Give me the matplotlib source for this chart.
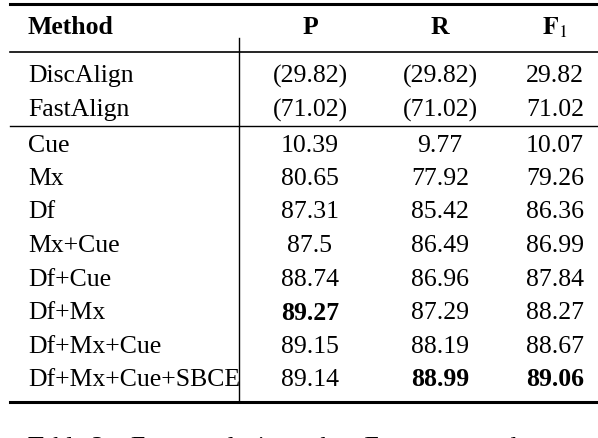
import matplotlib
matplotlib.use("Agg")
import matplotlib.pyplot as plt
plt.rcParams["mathtext.fontset"] = "stix"

methods = ["DiscAlign", "FastAlign", "Cue", "Mx", "Df", "Mx+Cue", "Df+Cue", "Df+Mx", "Df+Mx+Cue", "Df+Mx+Cue+SBCE"]
P = ["(29.82)", "(71.02)", "10.39", "80.65", "87.31", "87.5", "88.74", "89.27", "89.15", "89.14"]
R = ["(29.82)", "(71.02)", "9.77", "77.92", "85.42", "86.49", "86.96", "87.29", "88.19", "88.99"]
F1 = ["29.82", "71.02", "10.07", "79.26", "86.36", "86.99", "87.84", "88.27", "88.67", "89.06"]
bold = {(7, 0), (9, 1), (9, 2)}

W, H = 598, 438
fig = plt.figure(figsize=(W/100, H/100), dpi=100)
ax = fig.add_axes([0, 0, 1, 1])
ax.set_xlim(0, W); ax.set_ylim(H, 0); ax.axis("off")
font = "Liberation Serif"
fs = 18.5

ax.plot([10, 598], [4, 4], color="black", lw=2.2)
ax.plot([10, 598], [52, 52], color="black", lw=1.2)
ax.plot([10, 598], [126, 126], color="black", lw=1.0)
ax.plot([10, 598], [402, 402], color="black", lw=2.2)
ax.plot([239, 239], [38, 402], color="black", lw=1.0)

cols = [310, 440, 555]
ax.text(28, 28, "Method", fontfamily=font, fontsize=fs, fontweight="bold", va="center")
for x, h in zip(cols, ["P", "R", r"$\mathbf{F}_1$"]):
    ax.text(x, 28, h, fontfamily=font, fontsize=fs, fontweight="bold", va="center", ha="center")

ys = [76, 110, 146, 179, 212, 246, 280, 313, 347, 380]
for i, (m, y) in enumerate(zip(methods, ys)):
    ax.text(28, y, m, fontfamily=font, fontsize=fs, va="center")
    for j, (x, v) in enumerate(zip(cols, [P[i], R[i], F1[i]])):
        ax.text(x, y, v, fontfamily=font, fontsize=fs, va="center", ha="center",
                fontweight="bold" if (i, j) in bold else "normal")

ax.text(28, 448, "Table 3:   Error analysis on the   F-measure and", fontfamily=font, fontsize=fs, va="center")
fig.savefig("out.png", dpi=100)
